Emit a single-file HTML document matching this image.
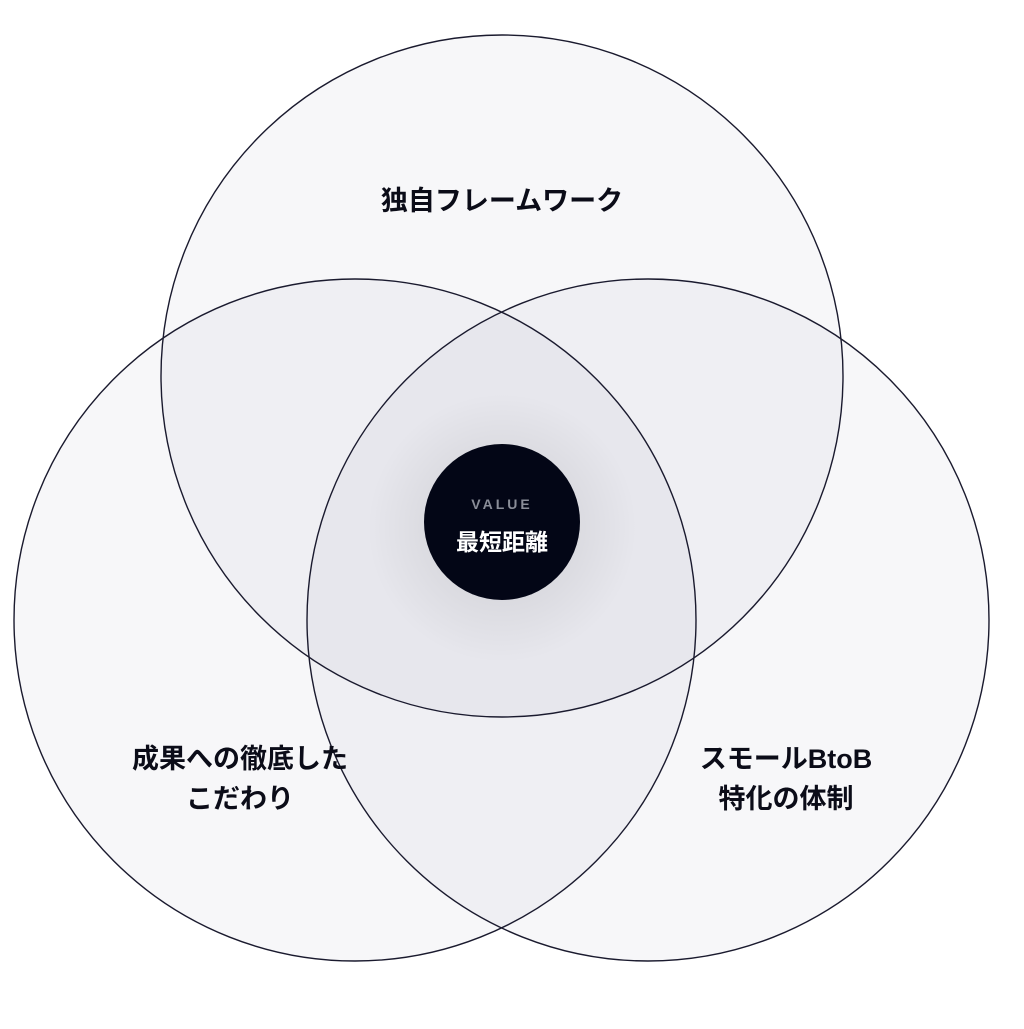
<!DOCTYPE html>
<html><head><meta charset="utf-8"><style>
html,body{margin:0;padding:0;background:#fff;}
body{width:1024px;height:1024px;overflow:hidden;}
text{font-family:"Liberation Sans","Noto Sans CJK JP",sans-serif;font-weight:700;}
</style></head><body>
<svg width="1024" height="1024" viewBox="0 0 1024 1024" xmlns="http://www.w3.org/2000/svg">
<defs>
<radialGradient id="glow" cx="50%" cy="50%" r="50%">
<stop offset="0%" stop-color="#000" stop-opacity="0.2"/>
<stop offset="50%" stop-color="#000" stop-opacity="0.06"/>
<stop offset="100%" stop-color="#000" stop-opacity="0"/>
</radialGradient>
</defs>
<g fill="#4a4a6a" fill-opacity="0.045">
<circle cx="502" cy="376" r="341"/>
<circle cx="355" cy="620" r="341"/>
<circle cx="648" cy="620" r="341"/>
</g>
<circle cx="502" cy="528" r="135" fill="url(#glow)"/>
<g fill="none" stroke="#1a1a2e" stroke-width="1.4">
<circle cx="502" cy="376" r="341"/>
<circle cx="355" cy="620" r="341"/>
<circle cx="648" cy="620" r="341"/>
</g>
<circle cx="502" cy="522" r="78" fill="#030616"/>
<text x="502" y="509" text-anchor="middle" font-size="14" fill="#8a8d98" letter-spacing="3">VALUE</text>
<text x="502" y="550" text-anchor="middle" font-size="23" fill="#fff">最短距離</text>
<g fill="#0b0c18" font-size="27" text-anchor="middle">
<text x="502" y="210">独自フレームワーク</text>
<text x="240" y="768">成果への徹底した</text>
<text x="240" y="808">こだわり</text>
<text x="786" y="768">スモールBtoB</text>
<text x="786" y="808">特化の体制</text>
</g>
</svg>
</body></html>
